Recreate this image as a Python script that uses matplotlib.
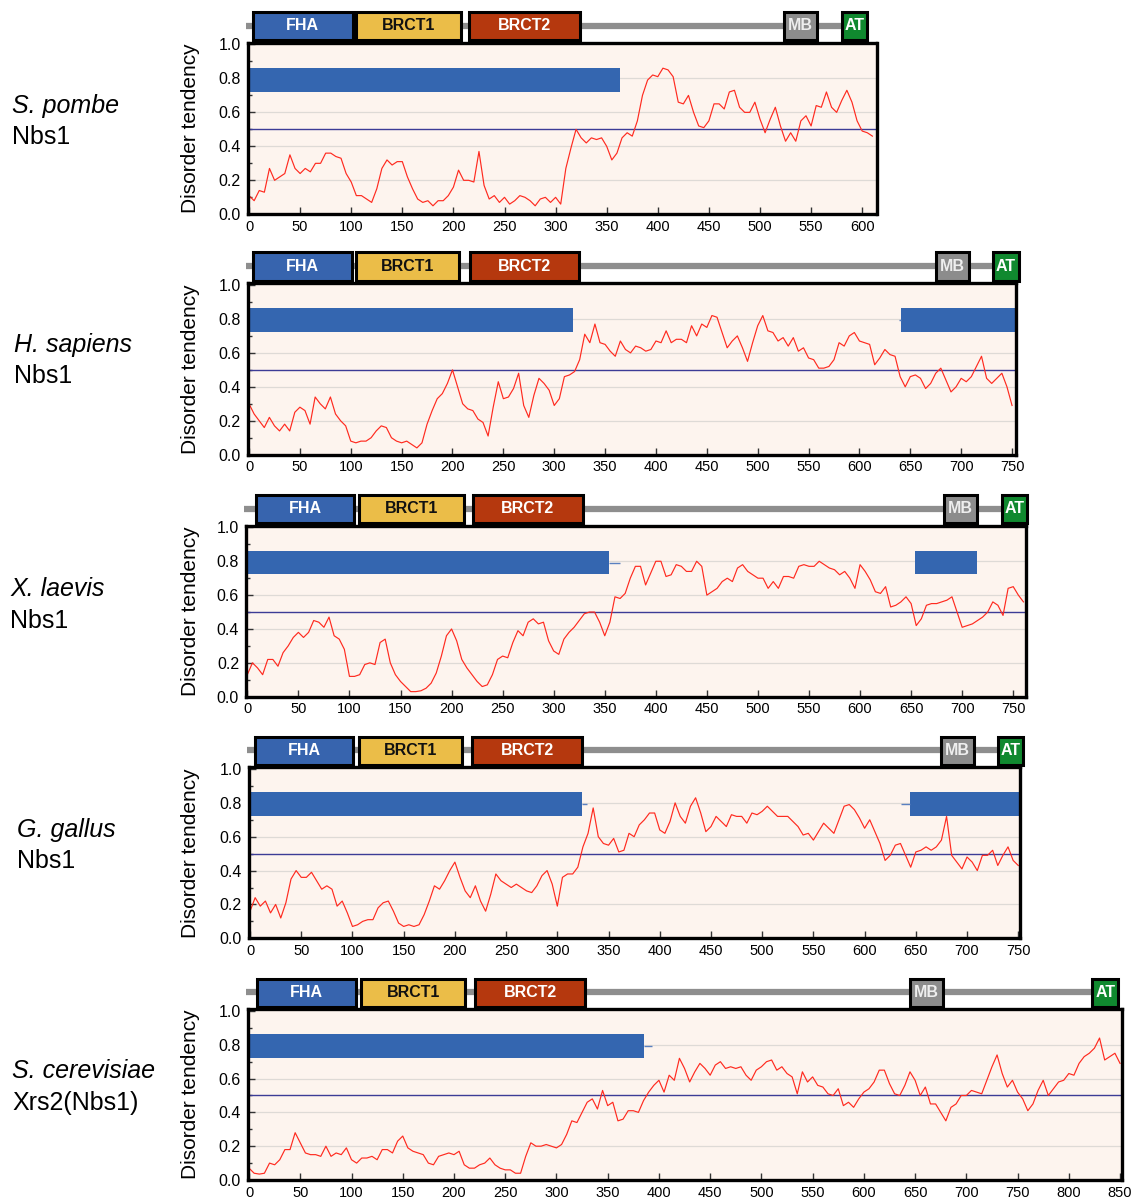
import numpy as np
import matplotlib
matplotlib.use('Agg')
from matplotlib import pyplot as plt
from matplotlib.patches import Rectangle
import matplotlib.transforms as mtransforms

plt.rcParams['font.family'] = ['Liberation Sans', 'DejaVu Sans']

W, H = 1132, 1199

# ---- data -------------------------------------------------------------
species = ['S. pombe', 'H. sapiens', 'X. laevis', 'G. gallus', 'S. cerevisiae']
proteins = ['Nbs1', 'Nbs1', 'Nbs1', 'Nbs1', 'Xrs2(Nbs1)']

domain_names = ['FHA', 'BRCT1', 'BRCT2', 'MB', 'AT']
pombe_domains = [(3.6, 101.5), (104.6, 207.4), (215.5, 324.3), (523, 555.5), (580, 604.6)]
sapiens_domains = [(3.6, 100.9), (105.1, 206.6), (217, 324.6), (675.7, 707.5), (731.3, 756.7)]
laevis_domains = [(8.5, 104.8), (109.6, 212), (220.7, 328.9), (682.4, 714.6), (739.3, 763.8)]
gallus_domains = [(4.9, 101), (106.7, 206.7), (217, 324), (675, 707), (730.4, 754.8)]
cerevisiae_domains = [(8.1, 104), (109.3, 210.9), (220.5, 327.9), (645, 677), (823, 848.4)]

# ordered regions (blue bars) and their short tails
pombe_blue = [(0, 363)]
sapiens_blue = [(0, 318.7), (641, 753.4)]
laevis_blue = [(0, 354), (653.7, 714.2)]
gallus_blue = [(0, 324.4), (644.3, 752)]
cerevisiae_blue = [(0, 385.5)]
pombe_tail = []
sapiens_tail = [(639, 641)]
laevis_tail = [(354, 365)]
gallus_tail = [(324.4, 328.7), (636, 644.3)]
cerevisiae_tail = [(385.5, 393.6)]

# disorder tendency, sampled every 5 residues
pombe_y = [0.11, 0.08, 0.14, 0.13, 0.27, 0.20, 0.22, 0.24, 0.35, 0.27,
           0.24, 0.27, 0.25, 0.30, 0.30, 0.36, 0.36, 0.34, 0.33, 0.24,
           0.19, 0.11, 0.11, 0.09, 0.07, 0.15, 0.27, 0.32, 0.29, 0.31,
           0.31, 0.22, 0.15, 0.09, 0.07, 0.08, 0.05, 0.08, 0.08, 0.11,
           0.16, 0.26, 0.20, 0.20, 0.19, 0.37, 0.17, 0.09, 0.11, 0.07,
           0.10, 0.06, 0.08, 0.11, 0.10, 0.08, 0.05, 0.09, 0.10, 0.07,
           0.10, 0.06, 0.27, 0.39, 0.50, 0.45, 0.42, 0.45, 0.44, 0.45,
           0.40, 0.32, 0.36, 0.45, 0.48, 0.46, 0.55, 0.70, 0.79, 0.82,
           0.81, 0.86, 0.85, 0.81, 0.66, 0.65, 0.70, 0.60, 0.52, 0.51,
           0.55, 0.65, 0.65, 0.62, 0.72, 0.73, 0.63, 0.60, 0.60, 0.66,
           0.56, 0.48, 0.56, 0.63, 0.52, 0.43, 0.48, 0.43, 0.55, 0.58,
           0.52, 0.64, 0.63, 0.72, 0.63, 0.60, 0.67, 0.73, 0.66, 0.55,
           0.49, 0.48, 0.46]

sapiens_y = [0.30, 0.24, 0.20, 0.16, 0.22, 0.17, 0.14, 0.18, 0.14, 0.25,
             0.28, 0.26, 0.18, 0.34, 0.30, 0.27, 0.34, 0.24, 0.20, 0.17,
             0.08, 0.07, 0.08, 0.08, 0.10, 0.14, 0.17, 0.16, 0.10, 0.08,
             0.07, 0.08, 0.06, 0.04, 0.07, 0.18, 0.26, 0.33, 0.36, 0.42,
             0.50, 0.40, 0.30, 0.27, 0.26, 0.21, 0.19, 0.11, 0.28, 0.43,
             0.33, 0.34, 0.39, 0.48, 0.29, 0.22, 0.35, 0.45, 0.42, 0.38,
             0.29, 0.33, 0.46, 0.47, 0.49, 0.56, 0.71, 0.66, 0.77, 0.66,
             0.65, 0.61, 0.58, 0.67, 0.62, 0.60, 0.64, 0.63, 0.61, 0.62,
             0.67, 0.66, 0.73, 0.66, 0.68, 0.68, 0.66, 0.76, 0.70, 0.77,
             0.75, 0.82, 0.81, 0.72, 0.63, 0.67, 0.70, 0.63, 0.55, 0.66,
             0.76, 0.82, 0.73, 0.72, 0.67, 0.69, 0.64, 0.69, 0.61, 0.63,
             0.57, 0.56, 0.51, 0.51, 0.52, 0.56, 0.66, 0.64, 0.70, 0.72,
             0.67, 0.66, 0.65, 0.53, 0.57, 0.62, 0.59, 0.58, 0.46, 0.40,
             0.46, 0.47, 0.45, 0.39, 0.42, 0.48, 0.51, 0.44, 0.37, 0.40,
             0.45, 0.43, 0.46, 0.52, 0.58, 0.45, 0.42, 0.45, 0.48, 0.40,
             0.29]

laevis_y = [0.13, 0.20, 0.17, 0.13, 0.22, 0.22, 0.18, 0.26, 0.30, 0.35,
            0.38, 0.35, 0.38, 0.45, 0.44, 0.41, 0.47, 0.36, 0.34, 0.28,
            0.12, 0.12, 0.13, 0.19, 0.20, 0.19, 0.32, 0.34, 0.20, 0.13,
            0.09, 0.06, 0.03, 0.03, 0.035, 0.05, 0.08, 0.14, 0.24, 0.36,
            0.40, 0.33, 0.22, 0.17, 0.13, 0.09, 0.06, 0.07, 0.13, 0.22,
            0.24, 0.23, 0.32, 0.39, 0.36, 0.44, 0.46, 0.43, 0.44, 0.33,
            0.27, 0.25, 0.34, 0.38, 0.41, 0.45, 0.49, 0.50, 0.50, 0.44,
            0.36, 0.44, 0.59, 0.58, 0.61, 0.70, 0.77, 0.77, 0.66, 0.73,
            0.80, 0.80, 0.71, 0.72, 0.78, 0.77, 0.74, 0.74, 0.80, 0.77,
            0.60, 0.62, 0.64, 0.68, 0.70, 0.68, 0.76, 0.78, 0.74, 0.72,
            0.70, 0.70, 0.64, 0.68, 0.64, 0.71, 0.71, 0.70, 0.77, 0.78,
            0.77, 0.77, 0.80, 0.78, 0.76, 0.75, 0.72, 0.74, 0.70, 0.64,
            0.78, 0.74, 0.69, 0.62, 0.61, 0.65, 0.53, 0.54, 0.56, 0.59,
            0.55, 0.42, 0.46, 0.54, 0.55, 0.55, 0.56, 0.57, 0.59, 0.50,
            0.41, 0.42, 0.43, 0.45, 0.47, 0.50, 0.56, 0.54, 0.48, 0.64,
            0.65, 0.60, 0.56]

gallus_y = [0.16, 0.24, 0.19, 0.22, 0.15, 0.20, 0.12, 0.21, 0.35, 0.40,
            0.36, 0.36, 0.39, 0.34, 0.29, 0.31, 0.29, 0.19, 0.22, 0.15,
            0.07, 0.08, 0.10, 0.11, 0.11, 0.18, 0.21, 0.22, 0.16, 0.09,
            0.07, 0.08, 0.07, 0.08, 0.14, 0.22, 0.31, 0.29, 0.34, 0.40,
            0.45, 0.36, 0.28, 0.24, 0.31, 0.22, 0.16, 0.26, 0.38, 0.34,
            0.32, 0.30, 0.32, 0.30, 0.28, 0.27, 0.31, 0.37, 0.40, 0.32,
            0.19, 0.36, 0.38, 0.38, 0.42, 0.54, 0.62, 0.77, 0.60, 0.56,
            0.55, 0.59, 0.51, 0.52, 0.62, 0.60, 0.67, 0.70, 0.74, 0.74,
            0.64, 0.62, 0.69, 0.80, 0.72, 0.68, 0.78, 0.83, 0.74, 0.63,
            0.66, 0.72, 0.69, 0.66, 0.73, 0.72, 0.72, 0.68, 0.74, 0.73,
            0.75, 0.78, 0.75, 0.72, 0.72, 0.72, 0.69, 0.66, 0.61, 0.62,
            0.58, 0.63, 0.68, 0.65, 0.62, 0.70, 0.78, 0.79, 0.76, 0.71,
            0.65, 0.70, 0.63, 0.56, 0.46, 0.49, 0.55, 0.56, 0.49, 0.42,
            0.51, 0.52, 0.54, 0.52, 0.54, 0.58, 0.72, 0.49, 0.45, 0.41,
            0.48, 0.45, 0.40, 0.49, 0.49, 0.52, 0.43, 0.49, 0.54, 0.46,
            0.43]

cerevisiae_y = [0.07, 0.04, 0.035, 0.04, 0.10, 0.09, 0.12, 0.18, 0.18, 0.28,
                0.22, 0.16, 0.15, 0.15, 0.14, 0.20, 0.14, 0.16, 0.15, 0.19,
                0.12, 0.10, 0.13, 0.13, 0.14, 0.12, 0.18, 0.18, 0.16, 0.23,
                0.26, 0.19, 0.17, 0.16, 0.15, 0.10, 0.09, 0.14, 0.15, 0.16,
                0.15, 0.17, 0.09, 0.07, 0.07, 0.09, 0.10, 0.13, 0.09, 0.07,
                0.06, 0.06, 0.04, 0.04, 0.14, 0.22, 0.20, 0.20, 0.21, 0.20,
                0.19, 0.21, 0.27, 0.35, 0.34, 0.40, 0.46, 0.48, 0.42, 0.53,
                0.44, 0.46, 0.35, 0.36, 0.41, 0.41, 0.40, 0.47, 0.52, 0.56,
                0.59, 0.52, 0.62, 0.59, 0.72, 0.66, 0.58, 0.64, 0.69, 0.66,
                0.62, 0.68, 0.70, 0.66, 0.67, 0.66, 0.67, 0.62, 0.59, 0.65,
                0.67, 0.70, 0.71, 0.65, 0.67, 0.63, 0.61, 0.51, 0.64, 0.58,
                0.61, 0.56, 0.55, 0.51, 0.50, 0.54, 0.44, 0.46, 0.43, 0.48,
                0.52, 0.54, 0.58, 0.65, 0.65, 0.57, 0.51, 0.50, 0.56, 0.64,
                0.59, 0.50, 0.55, 0.45, 0.45, 0.40, 0.35, 0.43, 0.45, 0.50,
                0.50, 0.53, 0.52, 0.51, 0.59, 0.67, 0.74, 0.63, 0.55, 0.59,
                0.52, 0.48, 0.41, 0.45, 0.53, 0.59, 0.50, 0.54, 0.58, 0.59,
                0.63, 0.62, 0.69, 0.73, 0.75, 0.78, 0.84, 0.71, 0.73, 0.75,
                0.69]

profiles = [pombe_y, sapiens_y, laevis_y, gallus_y, cerevisiae_y]
domains = [pombe_domains, sapiens_domains, laevis_domains, gallus_domains, cerevisiae_domains]
blues = [pombe_blue, sapiens_blue, laevis_blue, gallus_blue, cerevisiae_blue]
tails = [pombe_tail, sapiens_tail, laevis_tail, gallus_tail, cerevisiae_tail]

# ---- layout (pixels: left, right, top, bottom) and x ranges -------------
boxes = [(247.5, 876.5, 42.7, 214.3),
         (247.5, 1015.5, 283.3, 454.7),
         (246.0, 1026.0, 525.7, 696.7),
         (248.5, 1020.0, 767.3, 938.3),
         (247.5, 1122.3, 1009.3, 1180.0)]
xlims = [(-1.5, 614), (-1.5, 753.4), (-1.3, 762.5), (-1.5, 751.7), (-1.5, 852.2)]
label_pos = [(12, 106, 137), (14, 345, 376), (10, 589, 621), (17, 830, 861), (12, 1071, 1103)]

dom_face = ['#3764ae', '#ebbd48', '#b5380e', '#8c8c8c', '#10892f']
dom_text = ['white', '#111111', 'white', '#eeeeee', 'white']

fig = plt.figure(figsize=(W / 100, H / 100), dpi=100)

for i in range(5):
    l, r, t, b = boxes[i]
    ax = fig.add_axes([l / W, 1 - b / H, (r - l) / W, (b - t) / H])
    ax.set_facecolor('#fdf4ee')
    ax.set_xlim(*xlims[i])
    ax.set_ylim(0, 1.01)

    # grid + threshold
    for g in [0.2, 0.4, 0.6, 0.8]:
        ax.axhline(g, color='#dedad6', lw=0.9, zorder=1)
    ax.axhline(0.5, color='#3c3c96', lw=1.0, zorder=2)

    # ordered regions
    for s, e in blues[i]:
        ax.barh(0.792, e - s, left=s, height=0.14, color='#3466b0', zorder=3)
    for s, e in tails[i]:
        ax.hlines(0.792, s, e, color='#5a80c0', lw=1.0, zorder=3)

    # disorder profile
    y = np.array(profiles[i])
    x = np.arange(len(y)) * 5
    ax.plot(x, y, color='#ff2a1f', lw=0.85, zorder=4)

    # ticks
    ax.set_yticks([0.0, 0.2, 0.4, 0.6, 0.8, 1.0])
    ax.set_yticklabels(['0.0', '0.2', '0.4', '0.6', '0.8', '1.0'])
    ax.set_yticks([0.1, 0.3, 0.5, 0.7, 0.9], minor=True)
    ax.set_xticks(np.arange(0, xlims[i][1] + 1, 50))
    ax.tick_params(axis='both', direction='in', length=5, width=1, color='#333333')
    ax.tick_params(axis='y', which='minor', direction='in', length=3, width=1, color='#333333')
    ax.tick_params(axis='x', labelsize=10.5, pad=4)
    ax.tick_params(axis='y', labelsize=11.5, pad=5)
    for sp in ax.spines.values():
        sp.set_linewidth(2.4)
        sp.set_color('black')
        sp.set_zorder(6)

    # domain schematic above the plot
    trans = mtransforms.blended_transform_factory(ax.transData, ax.transAxes)
    doms = domains[i]
    ax.plot([-3, doms[4][0]], [1.1, 1.1], transform=trans, color='#8e8e8e',
            lw=4.5, clip_on=False, zorder=5, solid_capstyle='butt')
    for k, (s, e) in enumerate(doms):
        ax.add_patch(Rectangle((s, 1.015), e - s, 0.165, transform=trans,
                               facecolor=dom_face[k], edgecolor='black', lw=2.2,
                               clip_on=False, zorder=6))
        ax.text((s + e) / 2, 1.098, domain_names[k], transform=trans, ha='center',
                va='center', fontsize=11.5, fontweight='bold', color=dom_text[k],
                clip_on=False, zorder=7)

    # labels
    fig.text(191 / W, 1 - (t + b) / 2 / H, 'Disorder tendency', rotation=90,
             ha='center', va='center', fontsize=15)
    lx, y1, y2 = label_pos[i]
    fig.text(lx / W, 1 - y1 / H, species[i], style='italic', fontsize=18,
             ha='left', va='center')
    fig.text(lx / W, 1 - y2 / H, proteins[i], fontsize=18, ha='left', va='center')

fig.savefig('out.png', dpi=100)
